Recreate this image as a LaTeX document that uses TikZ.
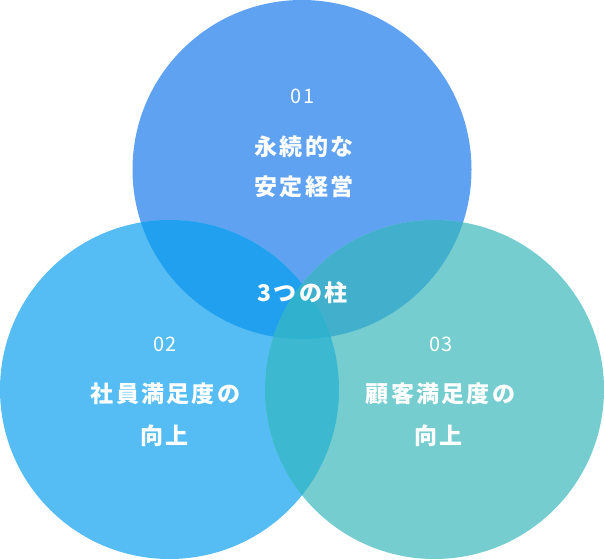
\documentclass[tikz,border=0pt]{standalone}
\usepackage{fontspec}
\newfontfamily\numfont[LetterSpace=5]{Noto Sans CJK JP}
\newfontfamily\lblfont[LetterSpace=10]{Noto Sans CJK JP}

\definecolor{ctop}{HTML}{5FA2F2}
\definecolor{cleft}{HTML}{55BDF4}
\definecolor{cright}{HTML}{75CDD0}
\definecolor{ctl}{HTML}{22A0F0}
\definecolor{ctr}{HTML}{42B0CC}
\definecolor{clr}{HTML}{3CB9D0}
\definecolor{cmid}{HTML}{30B2CE}

\tikzstyle{num} = [text = white, font = \numfont\fontsize{20}{24}\selectfont, inner sep = 0pt, anchor = base]
\tikzstyle{lbl} = [text = white, font = \lblfont\bfseries\fontsize{23}{26}\selectfont, inner sep = 0pt, anchor = base]

\begin{document}
\begin{tikzpicture}[x = 1pt, y = 1pt]
    \useasboundingbox (0, 0) rectangle (604, 559);
    \def\rad{169.5}
    \coordinate (top_c) at (302, 389.5);
    \coordinate (left_c) at (169.5, 169.5);
    \coordinate (right_c) at (434.5, 169.5);
    % circles
    \fill[ctop] (top_c) circle (\rad);
    \fill[cleft] (left_c) circle (\rad);
    \fill[cright] (right_c) circle (\rad);
    % overlaps
    \begin{scope}
        \clip (top_c) circle (\rad);
        \fill[ctl] (left_c) circle (\rad);
        \fill[ctr] (right_c) circle (\rad);
    \end{scope}
    \begin{scope}
        \clip (left_c) circle (\rad);
        \fill[clr] (right_c) circle (\rad);
        \clip (top_c) circle (\rad);
        \fill[cmid] (right_c) circle (\rad);
    \end{scope}
    % texts
    \node(num_top)[num] at (302.5, 455) {01};
    \node(stable)[lbl] at (304, 403.3) {永続的な};
    \node(management)[lbl] at (304, 363.3) {安定経営};
    \node(pillars)[lbl] at (302.5, 257.5) {3つの柱};
    \node(num_left)[num] at (165, 207.2) {02};
    \node(employee)[lbl] at (165.5, 156.3) {社員満足度の};
    \node(up_left)[lbl] at (164.5, 114.3) {向上};
    \node(num_right)[num] at (441, 207.2) {03};
    \node(customer)[lbl] at (440.5, 156.3) {顧客満足度の};
    \node(up_right)[lbl] at (438.5, 114.3) {向上};
\end{tikzpicture}
\end{document}
